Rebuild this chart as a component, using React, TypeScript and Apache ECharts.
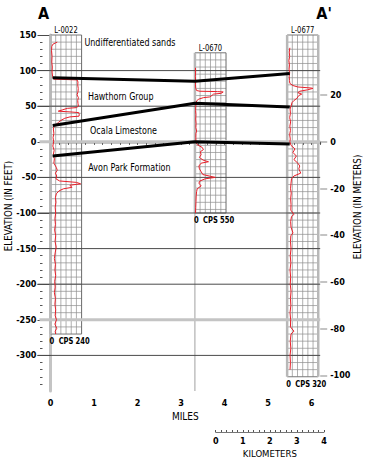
import React, { useEffect, useRef } from "react";
import * as echarts from "echarts";

// ---------- data ----------
const wellNames = ["L-0022", "L-0670", "L-0677"];
const wellDistanceMiles = [0, 3.32, 5.44];
const wellTopFt = [150, 125, 150];
const wellBottomFt = [-270, -100, -330];
const wellCpsMax = [240, 550, 320];
const wellLineToBase = [false, true, false];

const l0022ElevFt = [140, 139, 137, 134, 128, 120, 112, 105, 98, 92, 88, 87, 84, 80, 75, 70, 66, 62, 58, 54, 50, 48, 47, 45, 43, 42, 41, 38, 36, 35, 33, 30, 27, 24, 22, 18, 12, 6, 0, -6, -12, -18, -24, -30, -36, -40, -44, -48, -52, -55, -57, -59, -61, -64, -66, -69, -73, -78, -85, -92, -100, -108, -116, -124, -132, -140, -148, -156, -164, -172, -180, -188, -196, -204, -212, -220, -228, -236, -244, -250, -256, -262, -266, -270];
const l0022Cps = [52, 40, 18, 10, 8, 12, 10, 14, 12, 16, 24, 205, 212, 210, 214, 212, 205, 215, 210, 212, 215, 200, 130, 95, 60, 150, 218, 222, 220, 150, 110, 80, 60, 40, 28, 22, 26, 20, 24, 18, 28, 22, 30, 26, 45, 52, 38, 48, 42, 70, 200, 232, 150, 165, 100, 65, 45, 38, 42, 36, 40, 34, 38, 32, 40, 35, 44, 36, 30, 38, 34, 40, 32, 36, 30, 38, 34, 40, 36, 46, 34, 48, 36, 40];

const l0670ElevFt = [104, 98, 92, 86, 80, 75, 72, 71, 70.5, 70, 68, 67, 65, 63, 62, 60, 58, 55, 50, 44, 38, 32, 26, 20, 15, 12, 6, 0, -4, -8, -11, -14, -18, -22, -26, -28, -30, -34, -38, -42, -46, -50, -52, -55, -58, -62, -66, -70, -76, -84, -92, -100];
const l0670Cps = [10, 12, 8, 12, 10, 14, 30, 90, 400, 500, 460, 330, 300, 260, 150, 70, 35, 20, 15, 12, 18, 14, 20, 16, 30, 18, 16, 18, 40, 130, 150, 95, 110, 80, 150, 240, 110, 70, 80, 110, 140, 360, 180, 90, 70, 110, 40, 30, 22, 18, 14, 10];

const l0677ElevFt = [132, 126, 120, 114, 108, 102, 97, 92, 86, 82, 79, 77, 75.5, 75, 73, 71, 69, 67, 65, 63, 61, 58, 55, 50, 46, 40, 34, 28, 22, 16, 10, 4, 0, -5, -10, -15, -20, -25, -30, -34, -38, -44, -48, -52, -58, -66, -72, -80, -88, -96, -102, -105, -112, -120, -128, -132, -140, -150, -160, -170, -180, -190, -200, -210, -220, -230, -240, -250, -260, -266, -270, -280, -290, -300, -310, -320];
const l0677Cps = [28, 22, 26, 18, 24, 20, 26, 22, 24, 28, 60, 110, 250, 265, 210, 130, 110, 150, 120, 110, 100, 70, 50, 40, 30, 34, 26, 36, 28, 34, 26, 32, 28, 40, 80, 60, 95, 70, 110, 130, 120, 140, 70, 45, 40, 35, 42, 36, 40, 38, 70, 45, 36, 40, 60, 38, 34, 40, 32, 38, 30, 36, 32, 40, 34, 38, 30, 36, 34, 70, 40, 32, 38, 30, 34, 30];

const logElevations = [l0022ElevFt, l0670ElevFt, l0677ElevFt];
const logCps = [l0022Cps, l0670Cps, l0677Cps];

const contactMiles = [0.05, 3.32, 5.5];
const baseOfSandsFt = [90, 85, 96];
const topOfOcalaFt = [23, 54, 49];
const topOfAvonParkFt = [-20, 0, -3];
const contacts = [baseOfSandsFt, topOfOcalaFt, topOfAvonParkFt];

const formationNames = ["Undifferentiated sands", "Hawthorn Group", "Ocala Limestone", "Avon Park Formation"];
const formationLabelMiles = [0.78, 0.86, 0.91, 0.87];
const formationLabelFt = [140, 64, 16, -35];

const feetTickLabels = [150, 100, 50, 0, -50, -100, -150, -200, -250, -300];
const gridLineFt = [100, 50, 0, -50, -100, -150, -200, -250, -300];
const lightGridLineFt = [0, -250];
const meterTickLabels = [20, 0, -20, -40, -60, -80, -100];

// ---------- layout / style constants ----------
const FONT = "'Liberation Sans Narrow', 'DejaVu Sans Condensed', 'Arial Narrow', 'Roboto Condensed', sans-serif";
const X_MAX = 6.2;
const Y_MIN = -350;
const Y_MAX = 150;
const BOX_W = 0.715;
const FT_TO_M = 0.3048;
const RED = "#e8202a";
const NARROW = 0.84;

const minorFeetTicks: number[] = [];
for (let v = Y_MAX - 10; v > Y_MIN; v -= 10) if (v % 50 !== 0) minorFeetTicks.push(v);

const intLabel = (v: number) => (Math.abs(v - Math.round(v)) < 1e-6 ? String(Math.round(v)) : "");

function renderGridLine(params: any, api: any) {
  const v = api.value(1);
  const [x0, y] = api.coord([0, v]);
  const x1 = api.coord([X_MAX, v])[0];
  const light = lightGridLineFt.indexOf(v) >= 0;
  return {
    type: "line",
    shape: { x1: x0 - (light ? 11 : 13), y1: y, x2: x1, y2: y },
    style: { stroke: light ? "#c4c4c4" : "#4a4a4a", lineWidth: light ? 3 : 1 },
  };
}

function narrowText(x: number, y: number, text: string, align: string, fontSize: number, fontWeight = "normal") {
  return {
    type: "text",
    x,
    y,
    scaleX: NARROW,
    style: { text, x: 0, y: 0, fill: "#000", fontFamily: FONT, fontSize, fontWeight, align, verticalAlign: "middle" },
  };
}

function renderWell(params: any, api: any) {
  const i = api.value(2);
  const x0 = wellDistanceMiles[i];
  const x1 = x0 + BOX_W;
  const top = wellTopFt[i];
  const bot = wellBottomFt[i];
  const [lx, ty] = api.coord([x0, top]);
  const [rx, by] = api.coord([x1, bot]);
  const thin = { stroke: "#8e8e8e", lineWidth: 0.7 };
  const children: any[] = [];
  for (let e = top - 10; e > bot; e -= 10) {
    const y = api.coord([x0, e])[1];
    children.push({ type: "line", shape: { x1: lx, y1: y, x2: rx, y2: y }, style: thin });
  }
  for (let k = 1; k < 6; k++) {
    const x = lx + ((rx - lx) * k) / 6;
    children.push({ type: "line", shape: { x1: x, y1: ty, x2: x, y2: by }, style: thin });
  }
  children.push({ type: "line", shape: { x1: lx, y1: ty, x2: rx, y2: ty }, style: { stroke: "#777", lineWidth: 1 } });
  children.push({ type: "line", shape: { x1: lx, y1: by, x2: rx, y2: by }, style: { stroke: "#777", lineWidth: 1 } });
  children.push({ type: "line", shape: { x1: rx, y1: ty, x2: rx, y2: by }, style: { stroke: i === 2 ? "#b8b8b8" : "#6a6a6a", lineWidth: i === 2 ? 2.5 : 1 } });
  children.push({ type: "line", shape: { x1: lx, y1: ty, x2: lx, y2: by }, style: { stroke: "#b8b8b8", lineWidth: 2.5 } });
  if (wellLineToBase[i]) {
    const yb = api.coord([x0, Y_MIN])[1];
    children.push({ type: "line", shape: { x1: lx, y1: by, x2: lx, y2: yb }, style: { stroke: "#a0a0a0", lineWidth: 1 } });
  }
  children.push(narrowText((lx + rx) / 2, ty - 5, wellNames[i], "center", 9));
  children.push(narrowText(lx - 1, by + 7, "0", "left", 9, "bold"));
  children.push(narrowText((lx + rx) / 2, by + 7, "CPS", "center", 9, "bold"));
  children.push(narrowText(rx + 1, by + 7, String(wellCpsMax[i]), "center", 9, "bold"));
  return { type: "group", children };
}

function renderFormationLabel(params: any, api: any) {
  const i = api.value(2);
  const [x, y] = api.coord([api.value(0), api.value(1)]);
  return narrowText(x, y, formationNames[i], "left", 10.6);
}

const logSeries = wellNames.map((name, i) => ({
  type: "line",
  name: name + " gamma log",
  xAxisIndex: 0,
  yAxisIndex: 0,
  z: 4,
  symbol: "none",
  silent: true,
  lineStyle: { color: RED, width: 1 },
  data: logElevations[i].map((e, k) => [wellDistanceMiles[i] + (logCps[i][k] / wellCpsMax[i]) * BOX_W, e]),
}));

const contactSeries = contacts.map((c, j) => ({
  type: "line",
  name: "contact " + j,
  xAxisIndex: 0,
  yAxisIndex: 0,
  z: 5,
  symbol: "none",
  silent: true,
  lineStyle: { color: "#000", width: 3 },
  data: c.map((e, k) => [contactMiles[k], e]),
}));

const numLabel = { color: "#000", fontSize: 9, fontWeight: "bold", fontFamily: FONT };

const option: any = {
  animation: false,
  backgroundColor: "#fff",
  textStyle: { fontFamily: FONT },
  grid: [
    { left: 50.5, top: 35, width: 269.7, height: 356 },
    { left: 215.7, top: 430, width: 108.3, height: 2 },
  ],
  xAxis: [
    {
      type: "value",
      gridIndex: 0,
      min: 0,
      max: X_MAX,
      interval: 0.2,
      axisLine: { lineStyle: { color: "#c4c4c4", width: 3 } },
      axisTick: { length: 3, lineStyle: { color: "#444", width: 1 } },
      axisLabel: { ...numLabel, formatter: intLabel, margin: 7 },
      splitLine: { show: false },
      name: "MILES",
      nameLocation: "middle",
      nameGap: 19,
      nameTextStyle: { color: "#000", fontSize: 10, fontFamily: FONT, verticalAlign: "top" },
    },
    {
      type: "value",
      gridIndex: 1,
      min: 0,
      max: 4,
      interval: 0.2,
      axisLine: { lineStyle: { color: "#777", width: 1 } },
      axisTick: { length: 2, inside: true, lineStyle: { color: "#555", width: 1 } },
      axisLabel: { ...numLabel, formatter: intLabel, margin: 4 },
      splitLine: { show: false },
      name: "KILOMETERS",
      nameLocation: "middle",
      nameGap: 16,
      nameTextStyle: { color: "#000", fontSize: 9.5, fontFamily: FONT, verticalAlign: "top" },
    },
  ],
  yAxis: [
    {
      type: "value",
      gridIndex: 0,
      min: Y_MIN,
      max: Y_MAX,
      interval: 50,
      axisLine: { show: true, lineStyle: { color: "#c4c4c4", width: 3 } },
      axisTick: { show: true, length: 13, customValues: feetTickLabels, lineStyle: { color: "#4a4a4a", width: 1 } },
      axisLabel: {
        ...numLabel,
        customValues: feetTickLabels,
        formatter: (v: number) => (feetTickLabels.indexOf(v) >= 0 ? String(v) : ""),
        margin: 14,
      },
      splitLine: { show: false },
    },
    {
      type: "value",
      gridIndex: 0,
      position: "left",
      offset: 8,
      min: Y_MIN,
      max: Y_MAX,
      interval: 10,
      axisLine: { show: false },
      axisTick: { show: true, length: 2.5, customValues: minorFeetTicks, lineStyle: { color: "#555", width: 1 } },
      axisLabel: { show: false },
      splitLine: { show: false },
    },
    {
      type: "value",
      gridIndex: 0,
      position: "right",
      min: Y_MIN * FT_TO_M,
      max: Y_MAX * FT_TO_M,
      axisLine: { show: false },
      axisTick: { show: true, length: 7, customValues: meterTickLabels, lineStyle: { color: "#c4c4c4", width: 2 } },
      axisLabel: { ...numLabel, customValues: meterTickLabels, margin: 10 },
      splitLine: { show: false },
    },
    {
      type: "value",
      gridIndex: 1,
      min: 0,
      max: 1,
      show: false,
    },
  ],
  graphic: [
    { type: "text", x: 43.5, y: 13, style: { text: "A", fill: "#000", fontFamily: FONT, fontSize: 16, fontWeight: "bold", align: "center", verticalAlign: "middle" } },
    { type: "text", x: 324, y: 13, style: { text: "A'", fill: "#000", fontFamily: FONT, fontSize: 16, fontWeight: "bold", align: "center", verticalAlign: "middle" } },
    { type: "text", x: 8.5, y: 206, rotation: Math.PI / 2, style: { text: "ELEVATION (IN FEET)", fill: "#000", fontFamily: FONT, fontSize: 9.7, align: "center", verticalAlign: "middle" } },
    { type: "text", x: 357.5, y: 207, rotation: Math.PI / 2, style: { text: "ELEVATION (IN METERS)", fill: "#000", fontFamily: FONT, fontSize: 9.7, align: "center", verticalAlign: "middle" } },
  ],
  series: [
    {
      type: "custom",
      name: "wells",
      xAxisIndex: 0,
      yAxisIndex: 0,
      z: 2,
      silent: true,
      renderItem: renderWell,
      encode: { x: 0, y: 1 },
      data: wellNames.map((_, i) => [wellDistanceMiles[i], wellTopFt[i], i]),
    },
    {
      type: "custom",
      name: "grid lines",
      xAxisIndex: 0,
      yAxisIndex: 0,
      z: 3,
      silent: true,
      renderItem: renderGridLine,
      encode: { x: 0, y: 1 },
      data: gridLineFt.map((v) => [0, v]),
    },
    ...logSeries,
    ...contactSeries,
    {
      type: "custom",
      name: "formations",
      xAxisIndex: 0,
      yAxisIndex: 0,
      z: 6,
      silent: true,
      renderItem: renderFormationLabel,
      encode: { x: 0, y: 1 },
      data: formationNames.map((_, i) => [formationLabelMiles[i], formationLabelFt[i], i]),
    },
  ],
};

export default function App() {
  const ref = useRef<HTMLDivElement>(null);
  useEffect(() => {
    const chart = echarts.init(ref.current!, undefined, { renderer: "svg" });
    chart.setOption(option);
    return () => chart.dispose();
  }, []);
  return (
    <div
      ref={ref}
      style={{ position: "absolute", left: 0, top: 0, width: 368, height: 460, background: "#fff" }}
    />
  );
}
